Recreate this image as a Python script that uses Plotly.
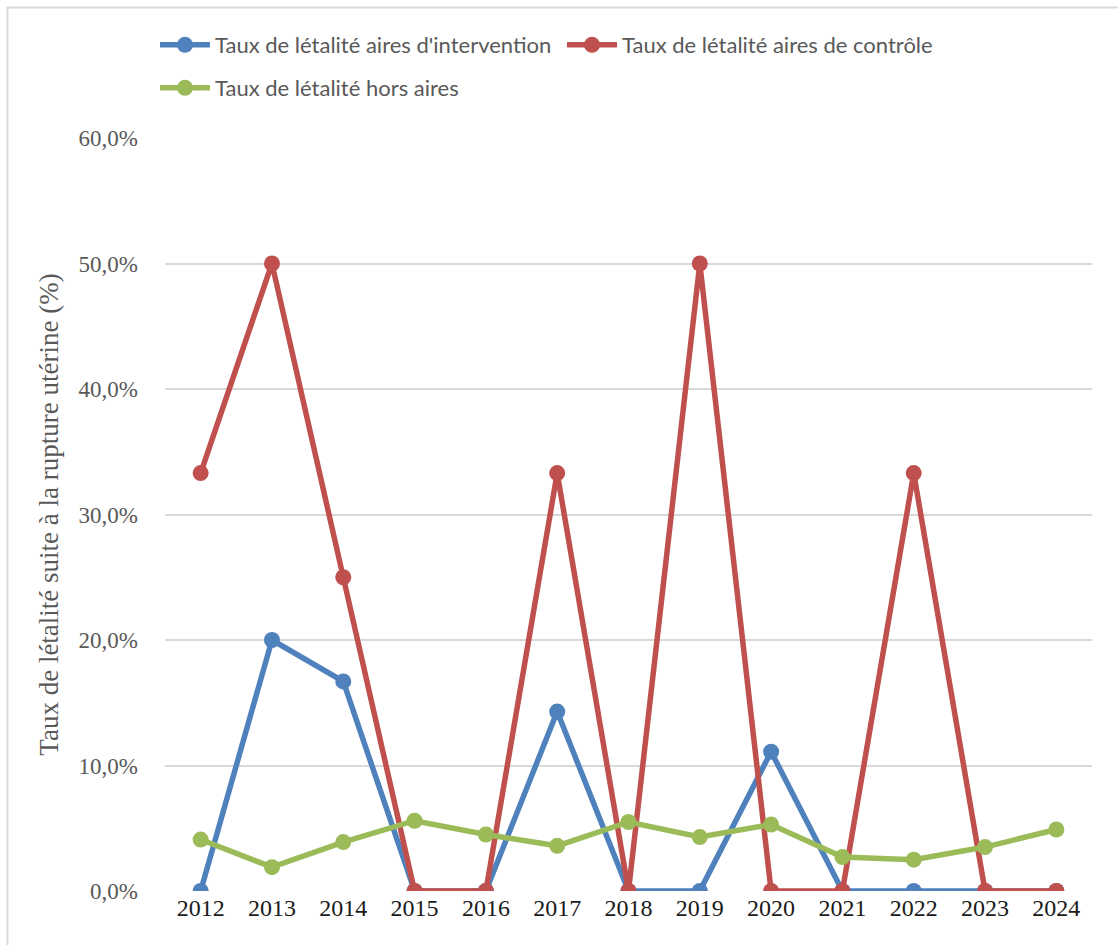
import plotly.graph_objects as go

# Années et taux de létalité (%) par type d'aire
years = ["2012", "2013", "2014", "2015", "2016", "2017", "2018",
         "2019", "2020", "2021", "2022", "2023", "2024"]
aires_intervention = [0.0, 20.0, 16.7, 0.0, 0.0, 14.3, 0.0, 0.0, 11.1, 0.0, 0.0, 0.0, 0.0]
aires_controle = [33.3, 50.0, 25.0, 0.0, 0.0, 33.3, 0.0, 50.0, 0.0, 0.0, 33.3, 0.0, 0.0]
hors_aires = [4.1, 1.9, 3.9, 5.6, 4.5, 3.6, 5.5, 4.3, 5.3, 2.7, 2.5, 3.5, 4.9]

y_ticks = [0, 10, 20, 30, 40, 50, 60]
y_tick_labels = ["0,0%", "10,0%", "20,0%", "30,0%", "40,0%", "50,0%", "60,0%"]

series = [
    ("Taux de létalité aires d'intervention", aires_intervention, "#4f81bd", "legend"),
    ("Taux de létalité aires de contrôle", aires_controle, "#c0504d", "legend"),
    ("Taux de létalité hors aires", hors_aires, "#9bbb59", "legend2"),
]

fig = go.Figure()
for name, values, color, leg in series:
    fig.add_trace(go.Scatter(
        x=years, y=values, name=name, mode="lines+markers",
        line=dict(color=color, width=5.5),
        marker=dict(color=color, size=16),
        legend=leg,
    ))

legend_font = dict(family="Lato, Liberation Sans, sans-serif", size=22, color="#595959")
serif = "Liberation Serif, Times New Roman, serif"
W, H = 1118, 945
L, R, T, B = 165, 26, 138, 54
pw, ph = W - L - R, H - T - B


def px_x(p):
    return (p - L) / pw


def px_y(p):
    return (H - B - p) / ph


fig.update_layout(
    width=W, height=H,
    margin=dict(l=L, r=R, t=T, b=B, autoexpand=False),
    paper_bgcolor="white", plot_bgcolor="white",
    showlegend=True,
    legend=dict(orientation="h", x=px_x(155), y=px_y(45), xanchor="left", yanchor="middle",
                font=legend_font, entrywidth=342, entrywidthmode="pixels",
                itemwidth=50, bgcolor="rgba(0,0,0,0)"),
    legend2=dict(orientation="h", x=px_x(155), y=px_y(88), xanchor="left", yanchor="middle",
                 font=legend_font, itemwidth=50, bgcolor="rgba(0,0,0,0)"),
    xaxis=dict(
        type="category", range=[-0.5, 12.5], showgrid=False, zeroline=False,
        showline=False, ticks="", tickfont=dict(family=serif, size=24, color="#1a1a1a"),
    ),
    yaxis=dict(
        range=[0, 60], tickvals=y_ticks, ticktext=y_tick_labels,
        showgrid=True, gridcolor="#d9d9d9", gridwidth=1.5, zeroline=False,
        showline=False, ticks="", ticklabelstandoff=26,
        tickfont=dict(family=serif, size=23, color="#595959"),
        title=dict(text="Taux de létalité suite à la rupture utérine (%)", standoff=12,
                   font=dict(family=serif, size=27, color="#595959")),
    ),
    shapes=[dict(type="rect", xref="paper", yref="paper",
                 x0=px_x(7.5), x1=px_x(1130), y0=px_y(960), y1=px_y(7.5),
                 line=dict(color="#d9d9d9", width=2), fillcolor="rgba(0,0,0,0)", layer="below")],
)

fig.write_html("out.html")
